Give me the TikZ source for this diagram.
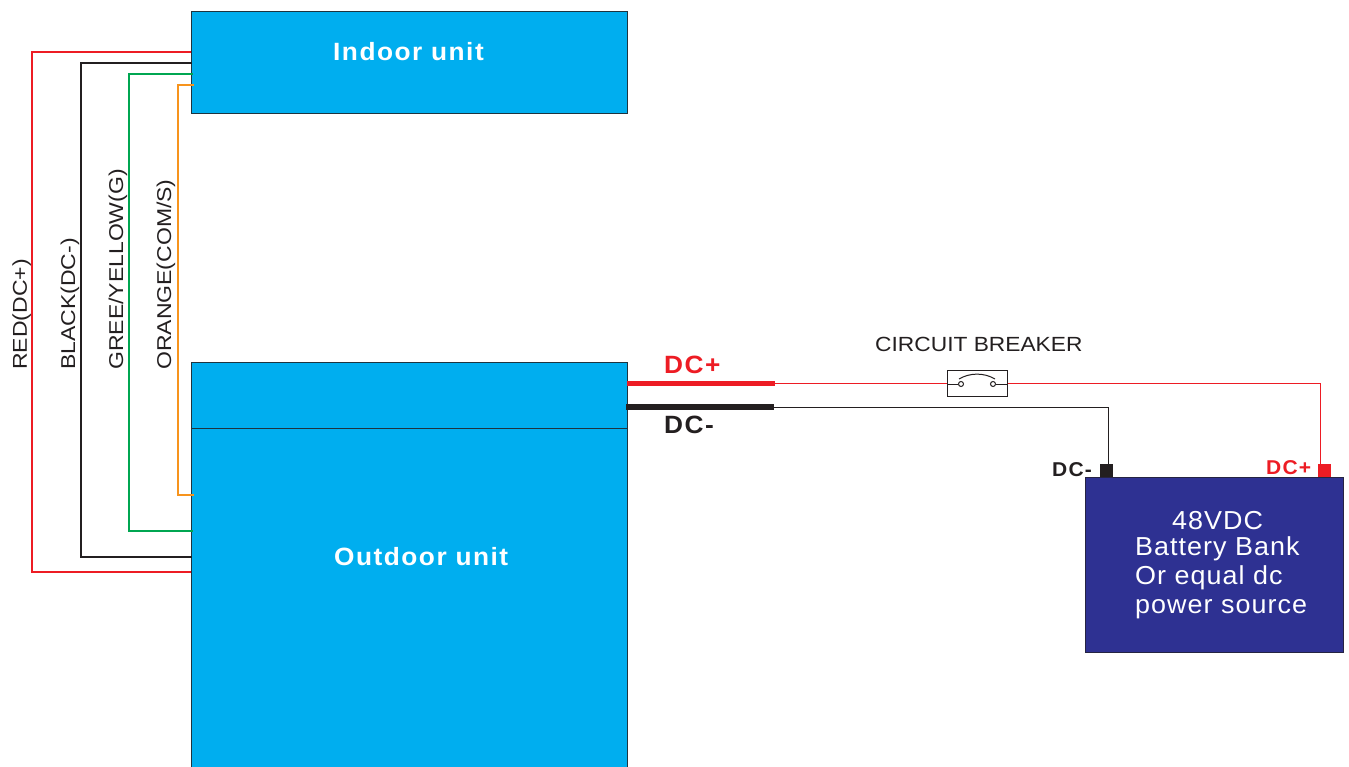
\documentclass[tikz,border=0pt]{standalone}
\usepackage{fontspec}
\setmainfont{Liberation Sans}
\newfontfamily\spA[LetterSpace=4,FakeStretch=1.035]{Liberation Sans}
\newfontfamily\spB[LetterSpace=6,FakeStretch=1.05]{Liberation Sans}
\newfontfamily\spS[FakeStretch=1.15]{Liberation Sans}
\newfontfamily\spC[FakeStretch=1.11]{Liberation Sans}
\definecolor{unitblue}{HTML}{00AEEF}
\definecolor{batblue}{HTML}{2E3192}
\definecolor{wred}{HTML}{ED1C24}
\definecolor{wblack}{HTML}{231F20}
\definecolor{wgreen}{HTML}{00A651}
\definecolor{worange}{HTML}{F7941D}
\tikzset{
  x=1pt,y=-1pt,
  txt/.style={inner sep=0pt,anchor=base west},
  unitbox/.style={draw=wblack!85!unitblue,line width=1pt,fill=unitblue,inner sep=0pt},
  unitlabel/.style={txt,text=white,font=\fontsize{25}{25}\selectfont\spB\bfseries},
  sidelabel/.style={txt,rotate=90,text=wblack,font=\fontsize{20}{20}\selectfont\spS},
  wire/.style={line width=2pt,line join=miter},
  thinwire/.style={line width=1.2pt},
  heavywire/.style={line width=5.5pt},
  batlabel/.style={txt,text=white,font=\fontsize{26}{26}\selectfont\spA},
  terminal/.style={inner sep=0pt,minimum width=13pt,minimum height=13pt,anchor=north west},
  bigdc/.style={txt,font=\fontsize{25}{25}\selectfont\spB\bfseries},
  smalldc/.style={txt,font=\fontsize{20}{20}\selectfont\spB\bfseries},
}
\begin{document}
\begin{tikzpicture}
\useasboundingbox (0,0) rectangle (1349,767);
% units
\node[unitbox,anchor=north west,minimum width=435.5pt,minimum height=102pt] (indoor) at (191,11) {};
\node[unitbox,anchor=north west,minimum width=435.5pt,minimum height=420pt] (outdoor) at (191,362) {};
\coordinate (divl) at (191,428);
\coordinate (divr) at (627,428);
\draw[line width=1pt,draw=wblack!85!unitblue] (divl) -- (divr);
\node[unitlabel] (indoorlabel) at (333,61) {Indoor unit};
\node[unitlabel] (outdoorlabel) at (334,565) {Outdoor unit};
% inter-unit wires
\coordinate (ra) at (191,52);  \coordinate (rb) at (191,572);
\coordinate (ka) at (192,63);  \coordinate (kb) at (192,557);
\coordinate (ga) at (193,74);  \coordinate (gb) at (193,531);
\coordinate (oa) at (194,85);  \coordinate (ob) at (194,495);
\draw[wire,draw=wred]    (ra) -| (32,572) -- (rb);
\draw[wire,draw=wblack]  (ka) -| (81,557) -- (kb);
\draw[wire,draw=wgreen]  (ga) -| (129,531) -- (gb);
\draw[wire,draw=worange] (oa) -| (178,495) -- (ob);
\node[sidelabel] (redlabel)    at (27,370)  {RED(DC+)};
\node[sidelabel] (blacklabel)  at (75,370)  {BLACK(DC-)};
\node[sidelabel] (greenlabel)  at (123,370) {GREE/YELLOW(G)};
\node[sidelabel] (orangelabel) at (171,370) {ORANGE(COM/S)};
% battery
\node[draw=wblack!70!batblue,line width=1pt,fill=batblue,anchor=north west,inner sep=0pt,minimum width=258pt,minimum height=175pt] (battery) at (1084.5,477) {};
\node[terminal,fill=wblack] (negterm) at (1100,464) {};
\node[terminal,fill=wred]   (posterm) at (1318,464) {};
\node[batlabel] (b1) at (1172,529) {48VDC};
\node[batlabel] (b2) at (1135,555) {Battery Bank};
\node[batlabel] (b3) at (1135,584) {Or equal dc};
\node[batlabel] (b4) at (1135,613.5) {power source};
\node[smalldc,text=wblack] (dcm2) at (1052,476) {DC-};
\node[smalldc,text=wred]   (dcp2) at (1266,474) {DC+};
% DC wires
\coordinate (pa) at (627,383.5); \coordinate (pb) at (775,383.5);
\coordinate (na) at (626,407);   \coordinate (nb) at (774,407);
\coordinate (pc) at (1320.5,383.5); \coordinate (nc) at (1108.5,407.5);
\draw[thinwire,draw=wred]   (pb) -- (pc) -- (posterm.north -| pc);
\draw[thinwire,draw=wblack] (nb |- nc) -- (nc) -- (negterm.north -| nc);
\draw[heavywire,draw=wred]   (pa) -- (pb);
\draw[heavywire,draw=wblack] (na) -- (nb);
% breaker
\node[draw=wblack,line width=1pt,fill=white,anchor=north west,inner sep=0pt,minimum width=60pt,minimum height=26pt] (breaker) at (947,369.5) {};
\node[txt,text=wblack,font=\fontsize{20.5}{20.5}\selectfont\spC] (cblabel) at (875,351) {CIRCUIT BREAKER};
\node[draw=wblack,line width=1pt,circle,minimum size=5pt,inner sep=0pt] (c1) at (961,384) {};
\node[draw=wblack,line width=1pt,circle,minimum size=5pt,inner sep=0pt] (c2) at (993,384) {};
\draw[line width=1pt,draw=wblack] (breaker.west |- c1) -- (c1);
\draw[line width=1pt,draw=wblack] (c2) -- (breaker.east |- c2);
\coordinate (arcl) at (959,379);
\coordinate (arcr) at (995,379);
\draw[line width=1pt,draw=wblack] (arcl) .. controls (970,372.5) and (984,372.5) .. (arcr);
\node[bigdc,text=wred]   (dcp1) at (664,373) {DC+};
\node[bigdc,text=wblack] (dcm1) at (664,433) {DC-};
\end{tikzpicture}
\end{document}
